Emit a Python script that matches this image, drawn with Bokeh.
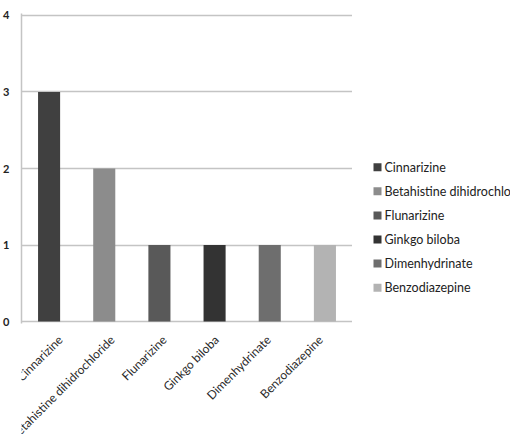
import math
from bokeh.plotting import figure
from bokeh.layouts import row, column
from bokeh.models import ColumnDataSource, FactorRange, Range1d
from bokeh.core.properties import value
from bokeh.embed import file_html
from bokeh.resources import INLINE

# Drugs and number of patients using each
drugs = ["Cinnarizine", "Betahistine dihidrochloride", "Flunarizine",
         "Ginkgo biloba", "Dimenhydrinate", "Benzodiazepine"]
counts = [3, 2, 1, 1, 1, 1]
shades = ["#404040", "#8c8c8c", "#595959", "#333333", "#6e6e6e", "#b3b3b3"]
y_ticks = [0, 1, 2, 3, 4]

FONT = "Lato"
TEXT_SIZE = "12.5px"
GRID = "#c4c4c4"

n = len(drugs)
source = ColumnDataSource(dict(drug=drugs, count=counts, shade=shades,
                               slot=list(range(n)),
                               centre=[i + 0.5 for i in range(n)]))

# ---- bar chart -----------------------------------------------------------
main = figure(
    x_range=FactorRange(*drugs, range_padding=0),
    y_range=Range1d(-0.026, 4.026),
    width=352, height=331,
    min_border_left=20, min_border_right=0,
    min_border_top=13, min_border_bottom=8,
    x_axis_location=None,
    output_backend="svg", toolbar_location=None,
)
main.vbar(x="drug", top="count", width=0.4, fill_color="shade",
          line_color=None, source=source)
main.outline_line_color = None
main.xgrid.grid_line_color = None
main.ygrid.ticker = y_ticks
main.ygrid.grid_line_color = GRID
main.ygrid.grid_line_width = 1.5

main.yaxis.ticker = y_ticks
main.yaxis.axis_line_color = GRID
main.yaxis.axis_line_width = 1.5
main.yaxis.major_tick_line_color = None
main.yaxis.minor_tick_line_color = None
main.yaxis.major_tick_out = 0
main.yaxis.major_tick_in = 0
main.yaxis.minor_tick_out = 0
main.yaxis.major_label_standoff = 12
main.yaxis.major_label_text_font = FONT
main.yaxis.major_label_text_font_size = "11px"
main.yaxis.major_label_text_font_style = "bold"
main.yaxis.major_label_text_color = "#222222"

# ---- rotated category labels under the bars --------------------------------
# same scale as the bars: one unit per category, plus the 20 px left border
cat_width = 332 / n
side = 20 / cat_width
labels = figure(
    x_range=Range1d(-side, n),
    y_range=Range1d(0, 1),
    width=352, height=110,
    min_border=0, x_axis_location=None, y_axis_location=None,
    output_backend="svg", toolbar_location=None,
)
labels.outline_line_color = None
labels.grid.grid_line_color = None
labels.text(x="centre", y=1, text="drug", source=source,
            angle=math.pi / 4, x_offset=-6, y_offset=6,
            text_align="right", text_baseline="middle",
            text_font=value(FONT), text_font_size="12px",
            text_color="#2a2a2a")

# ---- legend column ---------------------------------------------------------
row_px = 24.1
first_row = 166.7
key = figure(
    x_range=Range1d(0, 158),
    y_range=Range1d((441 - first_row) / row_px, -first_row / row_px),
    width=158, height=441,
    min_border=0, x_axis_location=None, y_axis_location=None,
    output_backend="svg", toolbar_location=None,
)
key.outline_line_color = None
key.grid.grid_line_color = None
key.scatter(x=25, y="slot", marker="square", size=8, fill_color="shade",
            line_color=None, source=source)
key.text(x=32, y="slot", text="drug", source=source,
         text_align="left", text_baseline="middle",
         text_font=value(FONT), text_font_size=TEXT_SIZE,
         text_color="#222222")

layout = row(column(main, labels), key)

open("out.html", "w").write(file_html(layout, INLINE))
